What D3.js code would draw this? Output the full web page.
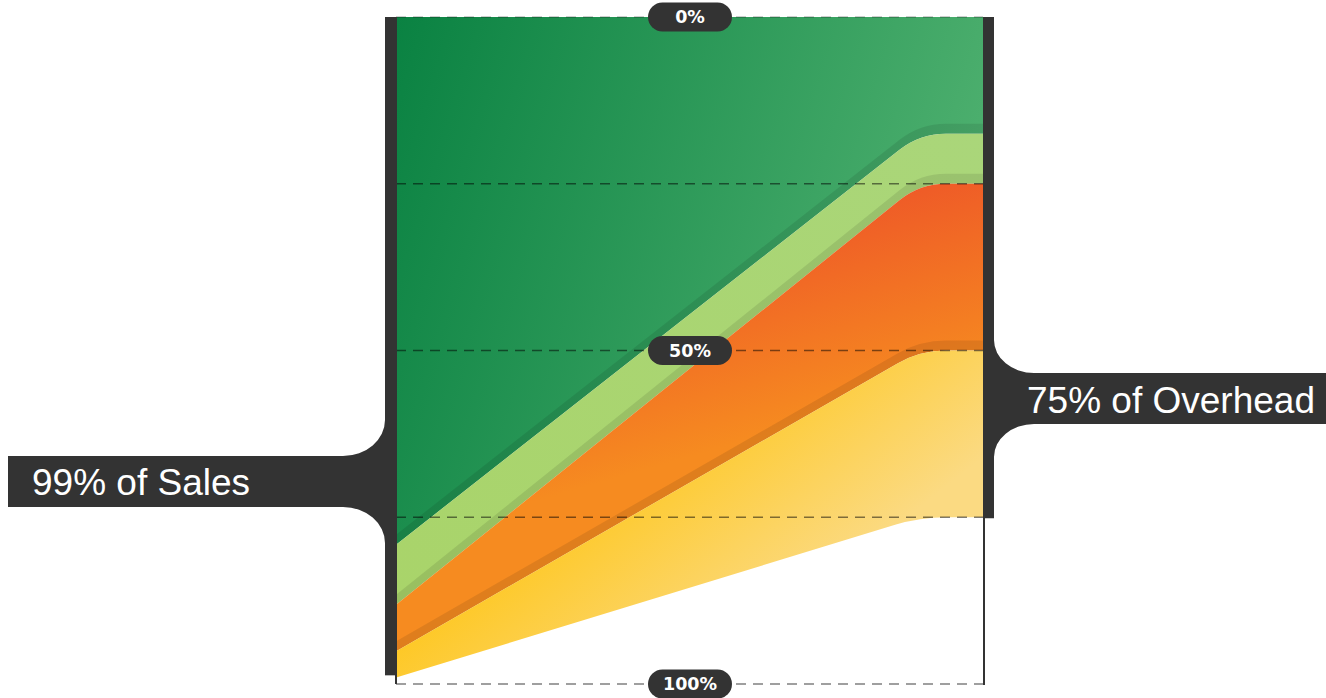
<!DOCTYPE html>
<html><head><meta charset="utf-8">
<script src="https://cdn.jsdelivr.net/npm/d3@7"></script>
<style>html,body{margin:0;padding:0;background:#fff;overflow:hidden}</style>
</head><body>
<svg id="chart" width="1326" height="698"></svg>
<script>
// ---- data ----
const categories = ["Sales", "Overhead"];
const seriesKeys = ["Segment 1", "Segment 2", "Segment 3", "Segment 4"];
const salesValues = [79, 9, 7, 4];          // % of Sales (cumulative 99%)
const overheadValues = [17.5, 7.5, 25, 25]; // % of Overhead (cumulative 75%)
const gridTicks = [0, 25, 50, 75, 100];
const pillTicks = [0, 50, 100];
const pillLabels = ["0%", "50%", "100%"];
const sideLabels = ["99% of Sales", "75% of Overhead"];

// ---- build ----
const rows = categories.map((c, ci) => {
  const r = { cat: c };
  seriesKeys.forEach((k, i) => r[k] = (ci === 0 ? salesValues : overheadValues)[i]);
  return r;
});
const stacked = d3.stack().keys(seriesKeys)(rows);

const svg = d3.select("#chart");
const y = d3.scaleLinear().domain([0, 100]).range([17, 684]);
const x = d3.scalePoint().domain(categories).range([397, 920]);
const xEnd = 983;
const xMid = (x("Sales") + xEnd) / 2;

const defs = svg.append("defs");
function grad(id, x1, y1, x2, y2, stops) {
  const g = defs.append("linearGradient").attr("id", id).attr("gradientUnits", "userSpaceOnUse")
    .attr("x1", x1).attr("y1", y1).attr("x2", x2).attr("y2", y2);
  stops.forEach(s => g.append("stop").attr("offset", s[0]).attr("stop-color", s[1]));
}
grad("gGreen", 397, 17, 983, 200, [[0, "#0a8242"], [1, "#4eb06f"]]);
grad("gLight", 397, 600, 983, 130, [[0, "#a9d46a"], [1, "#aad67a"]]);
grad("gOrange", 900, 170, 960, 380, [[0, "#ee5628"], [1, "#f68b20"]]);
grad("gYellow", 640, 420, 790, 610, [[0, "#fec61a"], [1, "#fbda82"]]);
const fills = ["url(#gGreen)", "url(#gLight)", "url(#gOrange)", "url(#gYellow)"];

function addBoundary(p, yL, yR, forward, first) {
  const x0 = x("Sales"), xk = x("Overhead"), x1 = xEnd;
  const dx = xk - x0, dy = yR - yL, len = Math.hypot(dx, dy);
  const r = 26;
  const ax = xk - dx / len * r, ay = yR - dy / len * r;
  const bx = xk + r;
  if (forward) {
    if (first) p.moveTo(x0, yL); else p.lineTo(x0, yL);
    p.lineTo(ax, ay); p.quadraticCurveTo(xk, yR, bx, yR); p.lineTo(x1, yR);
  } else {
    p.lineTo(x1, yR); p.lineTo(bx, yR); p.quadraticCurveTo(xk, yR, ax, ay); p.lineTo(x0, yL);
  }
}
function bandPath(tL, tR, bL, bR) {
  const p = d3.path();
  addBoundary(p, tL, tR, true, true);
  addBoundary(p, bL, bR, false, false);
  p.closePath();
  return p.toString();
}

// bands
svg.append("g").selectAll("path").data(stacked).join("path")
  .attr("d", s => bandPath(y(s[0][0]), y(s[1][0]), y(s[0][1]), y(s[1][1])))
  .attr("fill", (s, i) => fills[i]);

// shading strips above each lower band's top edge
const shift = 10;
svg.append("g").selectAll("path").data(stacked.slice(1)).join("path")
  .attr("d", s => bandPath(y(s[0][0]) - shift, y(s[1][0]) - shift, y(s[0][0]), y(s[1][0])))
  .attr("fill", "#000").attr("fill-opacity", 0.09);

// dashed gridlines
svg.append("g").selectAll("line").data(gridTicks).join("line")
  .attr("x1", x("Sales") - 1).attr("x2", xEnd)
  .attr("y1", d => y(d)).attr("y2", d => y(d))
  .attr("stroke", "#000").attr("stroke-opacity", d => d === 0 ? 0.25 : 0.5)
  .attr("stroke-width", 1.3).attr("stroke-dasharray", "10,7");

// side bars
const dark = "#333333";
const salesTotal = d3.sum(salesValues), overheadTotal = d3.sum(overheadValues);
svg.append("rect").attr("x", 385).attr("y", y(0)).attr("width", 12)
  .attr("height", y(salesTotal) - y(0) - 2).attr("fill", dark);
svg.append("line").attr("x1", 396).attr("x2", 396).attr("y1", y(salesTotal) - 3).attr("y2", y(100))
  .attr("stroke", dark).attr("stroke-width", 2);
svg.append("rect").attr("x", xEnd).attr("y", y(0)).attr("width", 11)
  .attr("height", y(overheadTotal) - y(0) + 1).attr("fill", dark);
svg.append("line").attr("x1", xEnd + 1).attr("x2", xEnd + 1).attr("y1", y(overheadTotal)).attr("y2", y(100) + 1)
  .attr("stroke", dark).attr("stroke-width", 2);

// left label tab
const lt = svg.append("g");
lt.append("rect").attr("x", 8).attr("y", 456).attr("width", 385 - 8 + 1).attr("height", 51).attr("fill", dark);
lt.append("path").attr("d", "M343,456 A42,36 0 0 0 385,420 L386,420 L386,457 L343,457 Z").attr("fill", dark);
lt.append("path").attr("d", "M343,507 A42,36 0 0 1 385,543 L386,543 L386,506 L343,506 Z").attr("fill", dark);
lt.append("text").attr("x", 32).attr("y", 495).text(sideLabels[0])
  .attr("fill", "#fff").attr("font-family", "'Liberation Sans', Arial, sans-serif").attr("font-size", 37);

// right label tab
const rt = svg.append("g");
rt.append("rect").attr("x", 993).attr("y", 373).attr("width", 1326 - 993).attr("height", 51).attr("fill", dark);
rt.append("path").attr("d", "M994,340 A40,33 0 0 0 1034,373 L1034,374 L993,374 L993,340 Z").attr("fill", dark);
rt.append("path").attr("d", "M1034,424 A40,33 0 0 0 994,457 L993,457 L993,423 L1034,423 Z").attr("fill", dark);
rt.append("text").attr("x", 1027).attr("y", 413).text(sideLabels[1])
  .attr("fill", "#fff").attr("font-family", "'Liberation Sans', Arial, sans-serif").attr("font-size", 37);

// pills
const pills = svg.append("g").selectAll("g").data(pillTicks).join("g")
  .attr("transform", d => `translate(${xMid},${y(d)})`);
pills.append("rect").attr("x", -42).attr("y", -14.5).attr("width", 84).attr("height", 29)
  .attr("rx", 14.5).attr("fill", dark);
pills.append("text").text((d, i) => pillLabels[i])
  .attr("text-anchor", "middle").attr("dy", "0.36em")
  .attr("fill", "#fff").attr("font-family", "'DejaVu Sans', sans-serif")
  .attr("font-weight", "bold").attr("font-size", 17.5);
</script>
</body></html>
